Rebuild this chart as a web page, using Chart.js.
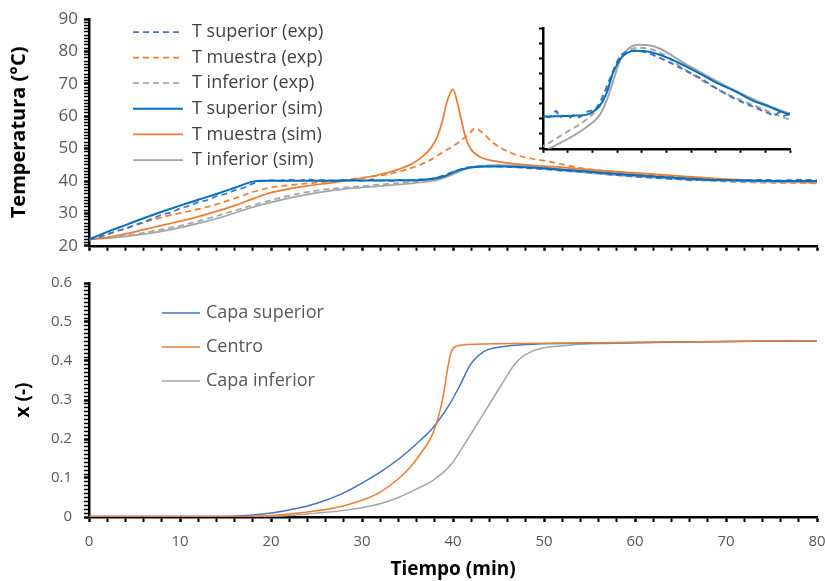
<!DOCTYPE html>
<html lang="es">
<head>
  <meta charset="UTF-8">
  <title>Temperatura y conversión frente al tiempo</title>
  <script src="https://cdn.jsdelivr.net/npm/chart.js"></script>
  <style>
    body {
      margin: 0;
      background: #fff;
      font-family: "Open Sans", sans-serif;
    }
    .wrap {
      position: relative;
      width: 825px;
      height: 581px;
    }
    .wrap canvas {
      position: absolute;
    }
    #top { left: 0; top: 0; }
    #bottom { left: 0; top: 262px; }
    #inset { left: 530px; top: 18px; }
  </style>
</head>
<body>

  <div class="wrap">
    <canvas id="top" width="825" height="262"></canvas>
    <canvas id="bottom" width="825" height="319"></canvas>
    <canvas id="inset" width="266" height="141"></canvas>
  </div>

  <script>
    // --- datos (tiempo en min) ---
    const tSupExpT = [0,1,2,3,4,5,6,7,8,9,10,11,12,13,14,15,16,17,18,19,20,21,22,23,24,25,26,27,28,29,30,31.2,31.6,32.4,33.2,34,34.8,35.6,36.4,37.4,38.1,38.8,39.4,40,40.6,41.6,42.7,44,45.7,47.5,49.4,52,54.8,57.5,60.2,63,65.6,66.5,67.2,68,69,70,72,74,76,78,80];
    const tSupExpY = [22,22.6,23.5,24.5,25.2,26.4,27.3,28.5,29.6,30.3,31.5,32.3,33.5,34.1,35.3,36.0,37.1,37.9,39.2,40.0,40.2,40.1,40.4,40.1,40.5,40.2,40.3,40.1,40.3,40.2,40.1,40.5,40.1,40.2,40.05,40.25,40.1,40.3,40.5,40.6,41.0,41.6,42.2,42.8,43.4,44.2,44.44,44.5,44.4,44.1,43.75,43.2,42.6,41.9,41.3,40.8,40.35,40.2,40.4,40.2,40.3,40.3,40.2,40.35,40.2,40.4,40.3];

    const tMueExpT = [0,2,4,6,8,10,12,14,16,18,20,23,27,30,33,35.3,37.1,38.9,40.8,41.8,42.4,43.2,44.4,46.6,50.7,54.3,59.8,65,70,75,80];
    const tMueExpY = [22,23.6,25.4,27.2,28.8,30.1,31.3,32.8,34.6,36.6,38.0,39.0,40.0,41.0,42.2,43.9,45.9,48.9,52.3,54.7,56.2,55.0,51.8,48.4,45.9,43.9,42.4,41.3,40.4,39.9,39.5];

    const tInfExpT = [0,3,6,9,12,15,18,21,24,27,30,33.2,35.9,38.1,39.4,40.8,42.4,44.6,47.3,52.2,57.5,63,70,75,80];
    const tInfExpY = [22,22.8,24.0,25.6,27.6,30.0,32.5,34.8,36.6,37.7,38.4,39.2,39.9,40.8,41.9,43.5,44.4,44.7,44.5,43.2,41.9,40.9,39.8,39.4,39.3];

    const tSupSimT = [0,2,4,6,8,10,12,14,16,18,19,22,26,30,34,36,37.6,38.6,39.4,40.2,41,41.8,42.8,44,46,49.4,52,54.8,57.5,60.2,63,65.6,68,70,73,76,80];
    const tSupSimY = [22,24.3,26.4,28.5,30.5,32.4,34.2,36.0,37.9,39.8,40.1,40.1,40.1,40.15,40.2,40.25,40.6,41.1,41.8,42.9,43.6,44.1,44.4,44.5,44.45,44.0,43.5,42.9,42.3,41.8,41.2,40.8,40.4,40.2,40.1,40.0,40.0];

    const tMueSimT = [0,2,4,6,8,10,12,14,16,18,20,22,24,27,30,32,34,35.5,36.7,37.6,38.3,38.9,39.3,39.7,40,40.4,40.8,41.3,41.9,43,45.2,48,52,56,60,65,70,75,80];
    const tMueSimY = [22,22.6,23.7,25.0,26.3,27.6,29.0,30.6,32.4,34.5,36.4,37.6,38.5,39.6,40.9,42.0,43.6,45.3,47.7,50.3,53.8,59.2,64.1,67.2,68.3,65.1,60.2,54.3,50.1,47.4,45.9,45.0,44.2,43.3,42.5,41.5,40.6,40.0,39.7];

    const tInfSimT = [0,3,6,9,12,15,18,21,24,27,30,33.2,35.9,38.1,39.4,40.6,41.6,43,44.6,47.3,52.2,57.5,63,70,75,80];
    const tInfSimY = [22,22.6,23.6,25.0,26.9,29.2,31.9,34.1,35.9,37.2,38.0,38.7,39.4,40.2,41.3,42.8,44.0,44.7,44.9,44.75,43.6,42.4,41.3,40.2,39.7,39.5];

    const xSupT = [0,10,16,18,20,22,24,26,28,30,32,34,36,37.8,39.7,40.8,41.9,43.3,45.2,48.8,56,65,80];
    const xSupY = [0.001,0.001,0.002,0.005,0.01,0.018,0.028,0.043,0.062,0.087,0.115,0.148,0.188,0.229,0.292,0.339,0.39,0.423,0.436,0.443,0.446,0.449,0.452];

    const xCenT = [0,16,18,20,22,24,26,28,30,32,34,35.2,36.4,37.8,38.5,39,39.4,39.8,40.4,41.5,48,60,80];
    const xCenY = [0.001,0.001,0.002,0.004,0.008,0.013,0.019,0.029,0.043,0.064,0.098,0.125,0.161,0.215,0.265,0.32,0.38,0.423,0.438,0.442,0.445,0.448,0.452];

    const xInfT = [0,18,20,22,24,26,28,30,32,34,36,37.8,39.7,41.5,43.3,45.2,47,48.8,52.5,59.8,80];
    const xInfY = [0.001,0.001,0.002,0.004,0.008,0.012,0.017,0.024,0.034,0.05,0.072,0.094,0.132,0.195,0.263,0.334,0.398,0.426,0.44,0.446,0.452];

    const leyendaTemp = ['T superior (exp)', 'T muestra (exp)', 'T inferior (exp)', 'T superior (sim)', 'T muestra (sim)', 'T inferior (sim)'];
    const leyendaX = ['Capa superior', 'Centro', 'Capa inferior'];

    const azulExp = '#4472C4', azulSim = '#0070C0', naranja = '#ED7D31', gris = '#A5A5A5';
    const gisTxt = '#595959';
    const fuente = '"Open Sans", sans-serif';

    function pts(xs, ys) {
      return xs.map((x, i) => ({ x: x, y: ys[i] }));
    }

    function serie(label, xs, ys, color, dash, width, order) {
      return {
        label: label,
        data: pts(xs, ys),
        borderColor: color,
        borderDash: dash,
        borderWidth: width,
        pointRadius: 0,
        fill: false,
        tension: 0.4,
        cubicInterpolationMode: 'monotone',
        order: order
      };
    }

    // leyenda dibujada dentro del area del grafico
    const leyenda = {
      id: 'leyenda',
      afterDraw(chart, args, opts) {
        if (!opts || !opts.x) return;
        const ctx = chart.ctx;
        ctx.save();
        ctx.font = opts.font;
        ctx.textBaseline = 'middle';
        chart.data.datasets.forEach((ds, i) => {
          const y = opts.y + i * opts.row;
          ctx.strokeStyle = ds.borderColor;
          ctx.lineWidth = ds.borderWidth;
          ctx.setLineDash(ds.borderDash || []);
          ctx.beginPath();
          ctx.moveTo(opts.x, y);
          ctx.lineTo(opts.x + opts.len, y);
          ctx.stroke();
          ctx.setLineDash([]);
          ctx.fillStyle = opts.color;
          ctx.fillText(ds.label, opts.x + opts.len + opts.gap, y);
        });
        ctx.restore();
      }
    };

    function ejeX(labels, height, padTicks, title) {
      return {
        type: 'linear',
        min: 0,
        max: 80,
        ticks: {
          stepSize: 2,
          autoSkip: false,
          maxRotation: 0,
          padding: padTicks,
          color: gisTxt,
          font: { family: fuente, size: 15 },
          callback: v => (labels && v % 10 === 0) ? String(v) : ''
        },
        grid: {
          drawOnChartArea: false,
          tickLength: 5,
          tickColor: '#000',
          tickWidth: c => (c.tick && c.tick.value % 10 === 0 ? 2.5 : 2)
        },
        border: { color: '#000', width: 2.5 },
        title: title ? {
          display: true,
          text: title,
          color: '#000',
          font: { family: fuente, size: 19, weight: 'bold' },
          padding: { top: 0, bottom: 0 }
        } : { display: false },
        afterFit: s => { s.height = height; s.paddingLeft = 0; s.paddingRight = 0; }
      };
    }

    // --- grafico superior: temperaturas ---
    new Chart(document.getElementById('top'), {
      type: 'line',
      data: {
        datasets: [
          serie(leyendaTemp[0], tSupExpT, tSupExpY, azulExp, [6, 4], 1.75, 2),
          serie(leyendaTemp[1], tMueExpT, tMueExpY, naranja, [6, 4], 1.75, 3),
          serie(leyendaTemp[2], tInfExpT, tInfExpY, gris, [6, 4], 1.75, 4),
          serie(leyendaTemp[3], tSupSimT, tSupSimY, azulSim, [], 2, 1),
          serie(leyendaTemp[4], tMueSimT, tMueSimY, naranja, [], 1.75, 2),
          serie(leyendaTemp[5], tInfSimT, tInfSimY, gris, [], 1.75, 5)
        ]
      },
      options: {
        responsive: false,
        animation: false,
        layout: { padding: { top: 19, right: 8, bottom: 0, left: 0 } },
        scales: {
          x: ejeX(false, 6, 0, null),
          y: {
            min: 20,
            max: 90,
            ticks: {
              stepSize: 1,
              maxTicksLimit: 100,
              autoSkip: false,
              padding: 6,
              color: gisTxt,
              font: { family: fuente, size: 17 },
              callback: v => v % 10 === 0 ? String(v) : ''
            },
            grid: {
              drawOnChartArea: false,
              tickLength: 5,
              tickColor: '#000',
              tickWidth: c => (c.tick && c.tick.value % 10 === 0 ? 2.5 : 1.5)
            },
            border: { color: '#000', width: 2.5 },
            title: {
              display: true,
              text: 'Temperatura (°C)',
              color: '#000',
              font: { family: fuente, size: 20, weight: 'bold' },
              padding: { top: 7, bottom: 0 }
            },
            afterFit: s => { s.width = 89; }
          }
        },
        plugins: {
          legend: { display: false },
          tooltip: { enabled: false },
          leyenda: { x: 133, y: 32, row: 25.6, len: 50, gap: 9, font: '18px ' + fuente, color: '#404040' }
        }
      },
      plugins: [leyenda]
    });

    // --- grafico inferior: conversion ---
    new Chart(document.getElementById('bottom'), {
      type: 'line',
      data: {
        datasets: [
          serie(leyendaX[0], xSupT, xSupY, azulExp, [], 1.5, 2),
          serie(leyendaX[1], xCenT, xCenY, naranja, [], 1.5, 1),
          serie(leyendaX[2], xInfT, xInfY, gris, [], 1.5, 3)
        ]
      },
      options: {
        responsive: false,
        animation: false,
        layout: { padding: { top: 18, right: 8, bottom: 0, left: 0 } },
        scales: {
          x: ejeX(true, 64, 11, 'Tiempo (min)'),
          y: {
            min: 0,
            max: 0.6,
            ticks: {
              stepSize: 0.01,
              maxTicksLimit: 100,
              autoSkip: false,
              padding: 12,
              color: gisTxt,
              font: { family: fuente, size: 15 },
              callback: v => {
                const k = Math.round(v * 100);
                return k % 10 === 0 ? String(k / 100) : '';
              }
            },
            grid: {
              drawOnChartArea: false,
              tickLength: 5,
              tickColor: '#000',
              tickWidth: c => (c.tick && Math.round(c.tick.value * 100) % 10 === 0 ? 2.5 : 1.5)
            },
            border: { color: '#000', width: 2.5 },
            title: {
              display: true,
              text: 'x (-)',
              color: '#000',
              font: { family: fuente, size: 19, weight: 'bold' },
              padding: { top: 12, bottom: 0 }
            },
            afterFit: s => { s.width = 89; }
          }
        },
        plugins: {
          legend: { display: false },
          tooltip: { enabled: false },
          leyenda: { x: 162, y: 51, row: 34, len: 38, gap: 6, font: '18px ' + fuente, color: gisTxt }
        }
      },
      plugins: [leyenda]
    });

    // --- detalle (inset) de T superior / T inferior ---
    new Chart(document.getElementById('inset'), {
      type: 'line',
      data: {
        datasets: [
          serie(leyendaTemp[0], tSupExpT, tSupExpY, azulExp, [6, 4], 2, 2),
          serie(leyendaTemp[2], tInfExpT, tInfExpY, gris, [6, 4], 2, 3),
          serie(leyendaTemp[3], tSupSimT, tSupSimY, azulSim, [], 2, 1),
          serie(leyendaTemp[5], tInfSimT, tInfSimY, gris, [], 2, 4)
        ]
      },
      options: {
        responsive: false,
        animation: false,
        layout: { padding: { top: 10, right: 6, bottom: 0, left: 0 } },
        scales: {
          x: {
            type: 'linear',
            min: 29,
            max: 69,
            ticks: { stepSize: 4, autoSkip: false, callback: () => '' },
            grid: { drawOnChartArea: false, tickLength: 4, tickColor: '#000', tickWidth: 2 },
            border: { color: '#000', width: 2.5 },
            afterFit: s => { s.height = 6; s.paddingLeft = 0; s.paddingRight = 0; }
          },
          y: {
            min: 38,
            max: 46,
            ticks: { stepSize: 1, autoSkip: false, callback: () => '' },
            grid: { drawOnChartArea: false, tickLength: 4, tickColor: '#000', tickWidth: 2 },
            border: { color: '#000', width: 2.5 },
            afterFit: s => { s.width = 13; }
          }
        },
        plugins: {
          legend: { display: false },
          tooltip: { enabled: false }
        }
      }
    });
  </script>

</body>
</html>
